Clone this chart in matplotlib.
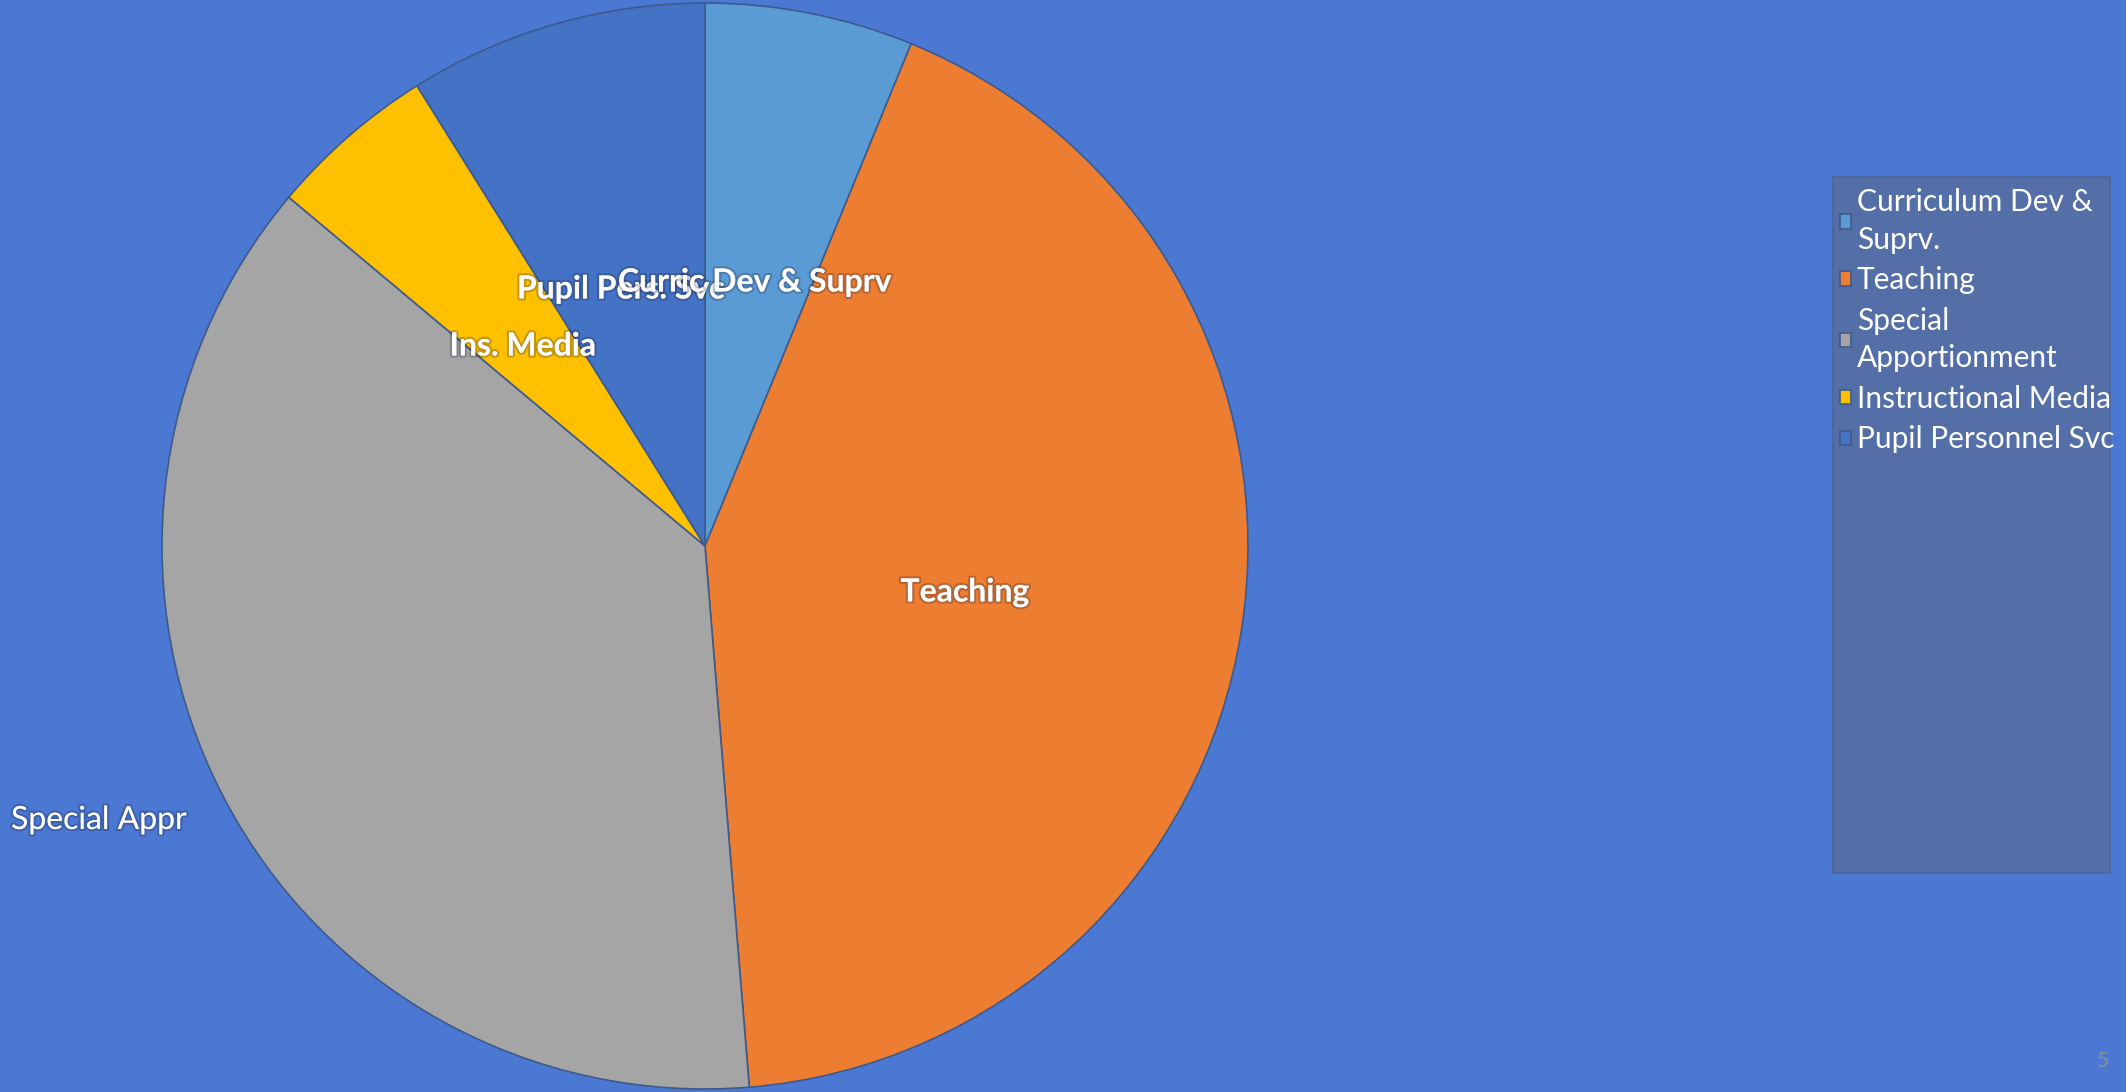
import matplotlib.pyplot as plt
import matplotlib.patheffects as pe
from matplotlib.patches import Rectangle

# Budget share by category (percent)
categories = ['Curriculum Dev &\nSuprv.', 'Teaching', 'Special\nApportionment',
              'Instructional Media', 'Pupil Personnel Svc']
short_labels = ['Curric Dev & Suprv', 'Teaching', 'Special Appr', 'Ins. Media', 'Pupil Pers. Svc']
shares = [6.2, 42.5, 37.4, 5.0, 8.9]
colors = ['#5B9BD5', '#ED7D31', '#A5A5A5', '#FFC000', '#4472C4']

W, H = 2126, 1092
BG = '#4A78D2'

fig = plt.figure(figsize=(W / 100, H / 100), dpi=100, facecolor=BG)
ax = fig.add_axes([0, 0, 1, 1])
ax.set_facecolor(BG)

# pie, clockwise from 12 o'clock like Excel
wedges, _ = ax.pie(shares, colors=colors, startangle=90, counterclock=False,
                   center=(705, H - 546), radius=543,
                   wedgeprops=dict(edgecolor='#3E5A8C', linewidth=1.2))
ax.set_xlim(0, W)
ax.set_ylim(0, H)
ax.set_aspect('equal')
ax.axis('off')

# data labels (placed where Excel put them)
label_pos = [(755, 282), (965, 592), (99, 820), (523, 346), (621, 289)]
glow = [pe.withStroke(linewidth=3, foreground=(0.1, 0.1, 0.2, 0.25))]
for i in [4, 0, 1, 3, 2]:
    x, y = label_pos[i]
    ax.text(x, H - y, short_labels[i], ha='center', va='center', color='white',
            fontsize=23, family='Lato', fontweight='normal' if i == 2 else 'bold',
            path_effects=glow, zorder=5)

# legend box
ax.add_patch(Rectangle((1833, H - 873), 277, 696, facecolor='#546FA7',
                       edgecolor='#4D67A0', linewidth=1.5, zorder=3))
leg = ax.legend(wedges, categories, loc='upper left', bbox_to_anchor=(1828 / W, 1 - 176 / H),
                frameon=False, handlelength=0.36, handleheight=0.36,
                handletextpad=0.2, labelspacing=0.42, borderaxespad=0,
                prop=dict(family='Lato', size=21.5))
for t in leg.get_texts():
    t.set_color('white')
    t.set_linespacing(1.42)
leg.set_zorder(6)

# slide number
ax.text(2103, H - 1061, '5', ha='center', va='center', color='#8A8FA0', fontsize=15, family='Lato')

fig.savefig('out.png', dpi=100, facecolor=BG)
